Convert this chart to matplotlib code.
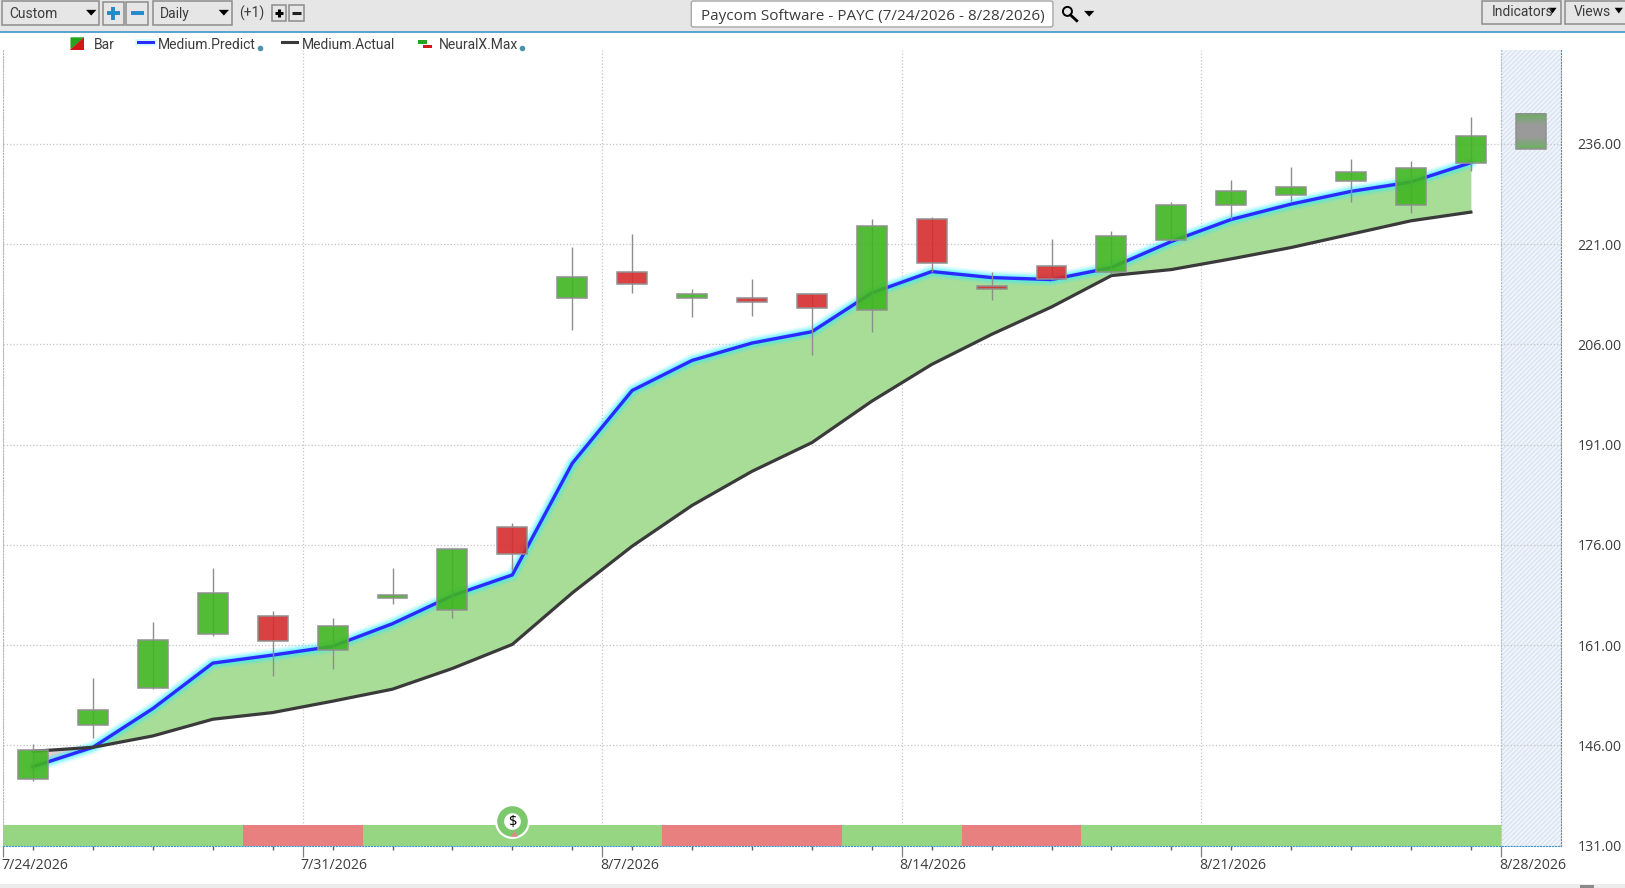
import numpy as np
import matplotlib
matplotlib.use('Agg')
import matplotlib.pyplot as plt
from matplotlib.colors import LinearSegmentedColormap
from matplotlib.patches import Rectangle, Polygon, FancyBboxPatch
from matplotlib.transforms import ScaledTranslation

plt.rcParams['font.family'] = ['Open Sans', 'DejaVu Sans']

# Chart data
bars = list(range(25))
opens = [140.9, 149.1, 154.6, 162.6, 165.3, 160.3, 168.1, 166.2, 178.6, 212.9, 216.9, 213.0, 213.0,
         213.5, 211.2, 224.8, 214.8, 217.7, 216.8, 221.6, 226.8, 228.4, 230.4, 226.8, 233.2]
closes = [145.3, 151.3, 161.7, 168.8, 161.6, 163.9, 168.5, 175.4, 174.7, 216.1, 215.1, 213.5, 212.4,
          211.5, 223.7, 218.2, 214.3, 215.8, 222.2, 226.8, 229.0, 229.6, 231.8, 232.4, 237.2]
highs = [146.2, 156.1, 164.5, 172.6, 166.1, 165.0, 172.6, 175.5, 179.2, 220.6, 222.5, 214.3, 215.8,
         213.6, 224.8, 225.0, 216.9, 221.7, 223.0, 227.3, 230.6, 232.6, 233.7, 233.4, 240.0]
lows = [140.6, 147.1, 154.4, 162.4, 156.3, 157.4, 167.1, 165.0, 172.3, 208.1, 213.7, 210.1, 210.3,
        204.4, 207.9, 216.9, 212.6, 215.7, 216.6, 221.5, 224.7, 227.5, 227.3, 225.6, 232.0]
predict = [142.8, 145.7, 151.5, 158.3, 159.5, 160.8, 164.2, 168.4, 171.5, 188.2, 199.1, 203.6, 206.2,
           207.9, 213.7, 216.9, 216.0, 215.7, 217.5, 221.4, 224.7, 227.0, 228.9, 230.3, 233.2]
actual = [145.1, 145.7, 147.4, 149.9, 150.9, 152.6, 154.4, 157.5, 161.1, 168.8, 175.8, 181.9, 187.0,
          191.3, 197.5, 203.0, 207.5, 211.6, 216.3, 217.2, 218.8, 220.5, 222.5, 224.5, 225.8]
signal = ['g', 'g', 'g', 'g', 'r', 'r', 'g', 'g', 'g', 'g', 'g', 'r', 'r',
          'r', 'g', 'g', 'r', 'r', 'g', 'g', 'g', 'g', 'g', 'g', 'g']
forecast_low, forecast_high = 235.2, 240.5
y_ticks = [131, 146, 161, 176, 191, 206, 221, 236]
date_ticks = [-0.5, 4.5, 9.5, 14.5, 19.5, 24.5]
date_labels = ['7/24/2026', '7/31/2026', '8/7/2026', '8/14/2026', '8/21/2026', '8/28/2026']
legend_names = ['Bar', 'Medium.Predict', 'Medium.Actual', 'NeuralX.Max']

GREEN = '#40b520'
RED = '#d62c2e'
TXT = '#3c3c3c'

fig = plt.figure(figsize=(16.25, 8.88), dpi=100, facecolor='white')

# plot area, in px of the 1568x857 view
def to_fig(x0, y0, x1, y1):
    return [x0 / 1568, 1 - y1 / 857, (x1 - x0) / 1568, (y1 - y0) / 857]

ax = fig.add_axes(to_fig(3, 48, 1506, 816))
x = np.array(bars)
o = np.array(opens)
c = np.array(closes)

ax.set_xlim(-0.5, 25.5)
ax.set_ylim(131, 250.1)

# forecast area
ax.axvspan(24.5, 25.5, facecolor='#f0f4fb', edgecolor='#dbe4f2', hatch='///////', lw=0, zorder=0)
ax.axvline(24.5, color='#9fb8d8', lw=0.8, ls=':', zorder=1)

ax.set_yticks(y_ticks)
ax.set_yticklabels(['%.2f' % v for v in y_ticks], ha='right')
ax.set_xticks(date_ticks)
ax.set_xticklabels(date_labels, ha='left')
ax.set_xticks(x + 0.0, minor=True)
ax.yaxis.tick_right()
ax.tick_params(axis='y', length=0, pad=44, labelsize=10.2, labelcolor=TXT)
ax.tick_params(axis='x', which='major', length=8, width=0.9, color='#808080', pad=1, labelsize=10.2, labelcolor=TXT)
ax.tick_params(axis='x', which='minor', length=3, width=1, color='#606060')
ax.grid(True, axis='both', color='#c4c4c4', lw=0.9, ls=':', zorder=1)
ax.set_axisbelow(True)

# date labels start slightly left of their ticks
shift = ScaledTranslation(-2 / 100, 0, fig.dpi_scale_trans)
for t in ax.get_xticklabels():
    t.set_transform(t.get_transform() + shift)

ax.spines['top'].set_visible(False)
ax.spines['left'].set_color('#b8b8b8')
ax.spines['left'].set_linestyle(':')
ax.spines['right'].set_color('#3c94c8')
ax.spines['right'].set_linestyle(':')
ax.spines['bottom'].set_color('#3c94c8')
ax.spines['bottom'].set_linestyle(':')

# signal band at the bottom
band_colors = ['#96d683' if s == 'g' else '#e98080' for s in signal]
ax.bar(x, 3.1, width=1.0, bottom=131, color=band_colors, lw=0, zorder=2)

# green area between the two lines
ax.fill_between(x, predict, actual, where=np.array(predict) >= np.array(actual), interpolate=True,
                color='#a8dd97', lw=0, zorder=2)
ax.fill_between(x, predict, actual, where=np.array(predict) <= np.array(actual), interpolate=True,
                color='#eccfcf', lw=0, zorder=2)

# glow below the blue line
for w, a in [(10, 0.10), (8, 0.16), (6, 0.25), (4, 0.35)]:
    ax.plot(x, predict, color='#30f0ff', lw=w, alpha=a, solid_capstyle='round', zorder=3)
ax.plot(x, predict, color='#2b2bff', lw=2.4, zorder=4)
ax.plot(x, actual, color='#3a3a3a', lw=2.3, zorder=4)

# candles
ax.vlines(x, lows, highs, color='#8e8e8e', lw=1.0, zorder=5)
body_colors = [GREEN if c[i] >= o[i] else RED for i in range(len(x))]
ax.bar(x, np.abs(c - o), width=0.5, bottom=np.minimum(o, c), color=body_colors, alpha=0.9,
       lw=0, zorder=6)
ax.bar(x, np.abs(c - o), width=0.5, bottom=np.minimum(o, c), facecolor='none',
       edgecolor='#909090', lw=1.1, zorder=7)

# forecast box
cmap = LinearSegmentedColormap.from_list('fc', ['#6cb060', '#9a9a9a', '#9a9a9a', '#6cb060'])
ax.imshow(np.linspace(0, 1, 40).reshape(-1, 1), extent=(24.75, 25.25, forecast_low, forecast_high),
          aspect='auto', cmap=cmap, zorder=6)
ax.add_patch(Rectangle((24.75, forecast_low), 0.5, forecast_high - forecast_low, fill=False,
                       edgecolor='#909090', lw=1.1, zorder=7))
ax.set_xlim(-0.5, 25.5)
ax.set_ylim(131, 250.1)

# $ badge on the band
ax.scatter([8], [134.6], s=560, facecolor='white', edgecolor='white', lw=1.5, zorder=8, clip_on=False)
ax.scatter([8], [134.6], s=290, facecolor='white', edgecolor='#7cc86c', lw=5, zorder=9)
ax.text(8, 134.5, '$', ha='center', va='center', fontsize=10.5, color='black', zorder=10)
ax.scatter([8.03], [132.9], s=22, marker='^', color='#e08a8a', lw=0, zorder=10)

# window chrome drawn in a full figure overlay
ui = fig.add_axes([0, 0, 1, 1], zorder=20)
ui.set_xlim(0, 1568)
ui.set_ylim(857, 0)
ui.axis('off')
ui.patch.set_alpha(0)

ui.add_patch(Rectangle((0, 0), 1568, 30, facecolor='#e6e6e6', lw=0))
ui.plot([0, 1568], [30.5, 30.5], color='#3c94c8', lw=1.2)
ui.add_patch(Rectangle((0, 853), 1568, 4, facecolor='#ececec', lw=0))
ui.add_patch(Rectangle((1525, 854), 13, 3, facecolor='#8a8a8a', lw=0))


def box(x0, y0, x1, y1, fc='#e6e6e6', ec='#8c8c8c'):
    ui.add_patch(Rectangle((x0, y0), x1 - x0, y1 - y0, facecolor=fc, edgecolor=ec, lw=1.1))


def arrow(cx, cy, s=5, col='black'):
    ui.add_patch(Polygon([(cx - s, cy - 2.5), (cx + s, cy - 2.5), (cx, cy + 3)], facecolor=col, lw=0))


def label(px, py, s, **kw):
    ui.text(px, py + 1.5, s, va='center', fontsize=kw.pop('fontsize', 10.0), color=kw.pop('color', TXT),
            family=kw.pop('family', 'Roboto'), **kw)


def plus(cx, cy, s, col, w, minus=False):
    ui.plot([cx - s, cx + s], [cy, cy], color=col, lw=w, solid_capstyle='butt')
    if not minus:
        ui.plot([cx, cx], [cy - s, cy + s], color=col, lw=w, solid_capstyle='butt')


box(2, 1, 96, 24)
label(9, 12, 'Custom')
arrow(88, 12)
box(99, 2, 120, 24)
plus(109.5, 13, 6, '#1f8ccc', 2.8)
box(122, 2, 143, 24)
plus(132.5, 13, 6, '#1f8ccc', 2.8, minus=True)
box(148, 1, 224, 24)
label(154, 12, 'Daily')
arrow(216, 12)
label(231, 11.5, '(+1)')
box(262, 5, 276, 20)
plus(269, 12.5, 4, 'black', 2.2)
box(279, 5, 293, 20)
plus(286, 12.5, 4, '#222222', 2.2, minus=True)

ui.add_patch(FancyBboxPatch((667, 1), 349, 25, boxstyle='round,pad=0,rounding_size=2', facecolor='white',
                            edgecolor='#a0a0a0', lw=0.9))
label(842, 14, 'Paycom Software - PAYC (7/24/2026 - 8/28/2026)', ha='center', fontsize=11.0,
      family='Open Sans')

ui.scatter([1030], [11], s=42, facecolor='none', edgecolor='black', lw=1.4)
ui.plot([1033, 1039], [14.5, 20], color='black', lw=2.0)
arrow(1051, 13)

box(1430, 1, 1506, 23)
label(1439, 10.5, 'Indicators')
arrow(1498, 10, s=4)
box(1510, 1, 1570, 23)
label(1519, 10.5, 'Views')
arrow(1562, 10, s=4)

# legend
ui.add_patch(Polygon([(68, 36), (81, 36), (68, 48)], facecolor='#22a51a', lw=0))
ui.add_patch(Polygon([(81, 36), (81, 48), (68, 48)], facecolor='#d01616', lw=0))
label(91, 41.5, legend_names[0])
ui.plot([133, 148], [41, 41], color='#c8fbff', lw=5, alpha=0.7)
ui.plot([133, 148], [41, 41], color='#2b2bff', lw=2.2)
label(152, 41.5, legend_names[1])
ui.scatter([251], [46], s=16, color='#4a94a8', lw=0)
ui.plot([272, 287], [41, 41], color='#3a3a3a', lw=2.2)
label(291, 41.5, legend_names[2])
ui.add_patch(Rectangle((403, 39), 9, 3.5, facecolor='#22a51a', lw=0))
ui.add_patch(Rectangle((408, 43), 9, 3.5, facecolor='#d01616', lw=0))
label(423, 41.5, legend_names[3])
ui.scatter([504], [46], s=16, color='#4a94a8', lw=0)

fig.savefig('out.png', dpi=100)
